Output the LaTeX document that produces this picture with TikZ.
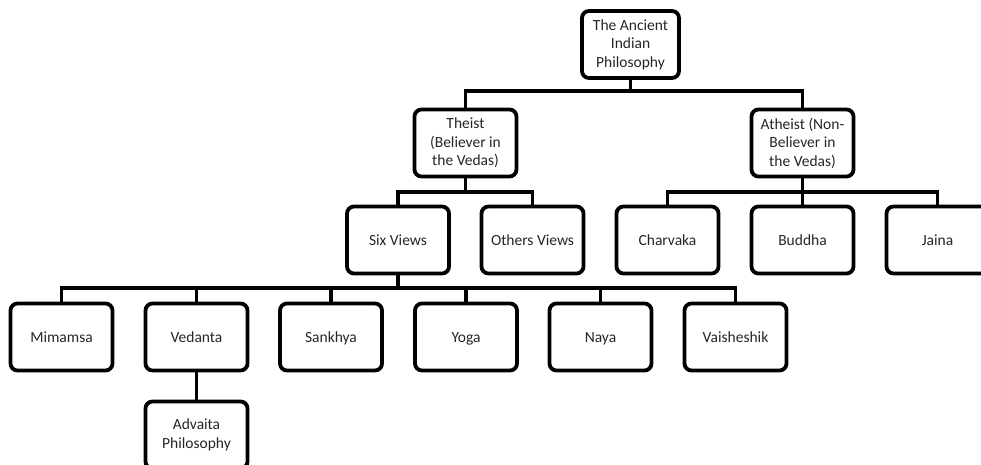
\documentclass[tikz,border=0pt]{standalone}
\usepackage{fontspec}
\setmainfont{Carlito}
\begin{document}
\begin{tikzpicture}[x=1pt,y=-1pt,
  box/.style={draw=black, line width=3.8pt, rounded corners=7pt, fill=white,
    minimum width=102pt, minimum height=67pt, align=center, inner sep=1pt,
    font=\fontsize{15.5}{18.5}\selectfont, text=black!85},
  one/.style={text height=12pt, text depth=2pt},
  link/.style={draw=black, line width=3.8pt}]
\useasboundingbox (0,0) rectangle (981,465);
% nodes
\node[box, minimum width=97pt] (root) at (630.5,44.5) {The Ancient\\Indian\\Philosophy};
\node[box] (theist) at (465.5,143) {Theist\\(Believer in\\the Vedas)};
\node[box] (atheist) at (802.5,143) {Atheist (Non-\\Believer in\\the Vedas)};
\node[box, one] (six) at (398,240) {Six Views};
\node[box, one] (others) at (532.5,240) {Others Views};
\node[box, one] (charvaka) at (667.5,240) {Charvaka};
\node[box, one] (buddha) at (802.5,240) {Buddha};
\node[box, one] (jaina) at (937.5,240) {Jaina};
\node[box, one] (mimamsa) at (61.5,337) {Mimamsa};
\node[box, one] (vedanta) at (196.5,337) {Vedanta};
\node[box, one] (sankhya) at (331,337) {Sankhya};
\node[box, one] (yoga) at (466,337) {Yoga};
\node[box, one] (naya) at (600.5,337) {Naya};
\node[box, one] (vaish) at (735.5,337) {Vaisheshik};
\node[box] (advaita) at (196.5,435) {Advaita\\Philosophy};
% bus coordinates
\coordinate (b0) at (630.5,91);
\coordinate (b1) at (465.5,192);
\coordinate (b2) at (802.5,192);
\coordinate (b3) at (398,288);
% connectors
\path[link] (root.south) -- (b0) -| (theist.north);
\path[link] (b0) -| (atheist.north);
\path[link] (theist.south) -- (b1) -| (six.north);
\path[link] (b1) -| (others.north);
\path[link] (atheist.south) -- (b2) -| (charvaka.north);
\path[link] (b2) -- (buddha.north);
\path[link] (b2) -| (jaina.north);
\path[link] (six.south) -- (b3) -| (mimamsa.north);
\path[link] (b3) -| (vedanta.north);
\path[link] (b3) -| (sankhya.north);
\path[link] (b3) -| (yoga.north);
\path[link] (b3) -| (naya.north);
\path[link] (b3) -| (vaish.north);
\path[link] (vedanta.south) -- (advaita.north);
\end{tikzpicture}
\end{document}
